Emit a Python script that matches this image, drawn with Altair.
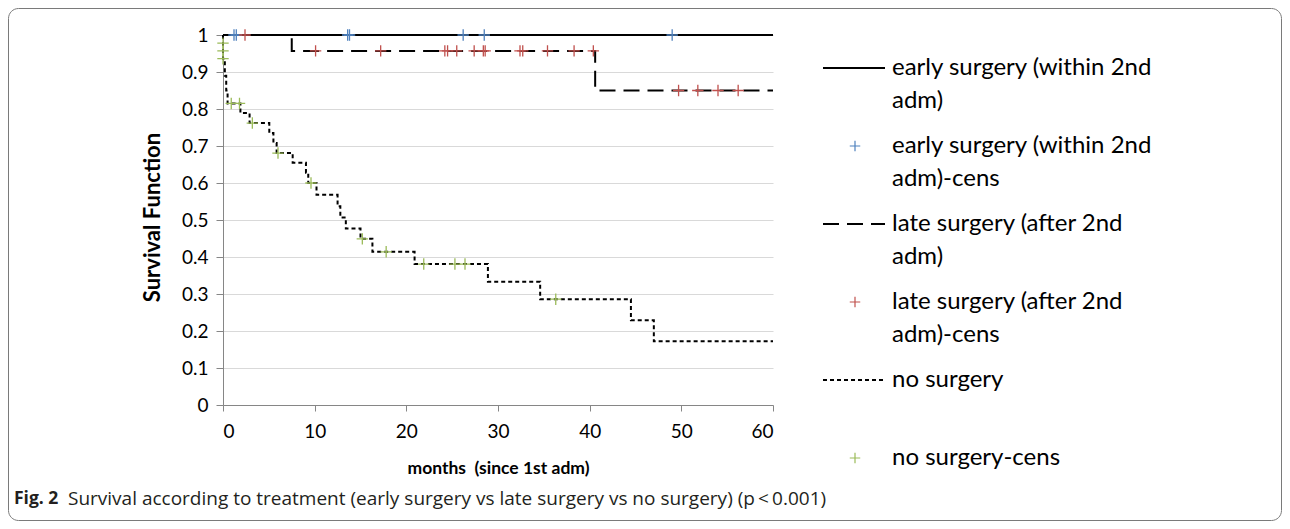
import altair as alt
import pandas as pd

# ---------------- data ----------------
groups = ["early surgery (within 2nd adm)", "late surgery (after 2nd adm)", "no surgery"]

early_t = [0, 60]
early_s = [1.0, 1.0]

late_t = [0, 7.5, 40.6, 60]
late_s = [1.0, 0.957, 0.850, 0.850]

none_t = [0, 0, 0, 0, 0.2, 0.35, 0.5, 1.9, 2.9, 5.05, 5.5, 5.85, 7.6, 9.05, 9.3,
          10.2, 12.5, 12.8, 13.4, 15.0, 16.3, 20.9, 28.9, 34.6, 44.5, 47.0, 60]
none_s = [1.0, 0.978, 0.957, 0.936, 0.89, 0.85, 0.815, 0.789, 0.762, 0.735, 0.708, 0.681,
          0.655, 0.628, 0.600, 0.568, 0.537, 0.507, 0.477, 0.449, 0.414, 0.381, 0.333,
          0.286, 0.229, 0.172, 0.172]

early_cens_t = [1.2, 1.45, 13.6, 13.8, 26.2, 28.5, 49.0]
early_cens_s = [1.0, 1.0, 1.0, 1.0, 1.0, 1.0, 1.0]

late_cens_t = [2.4, 10.1, 17.2, 24.2, 24.5, 25.5, 27.4, 28.4, 28.6, 32.4, 32.7, 35.4,
               38.3, 40.4, 49.7, 51.8, 54.0, 56.2]
late_cens_s = [1.0, 0.957, 0.957, 0.957, 0.957, 0.957, 0.957, 0.957, 0.957, 0.957,
               0.957, 0.957, 0.957, 0.957, 0.850, 0.850, 0.850, 0.850]

none_cens_t = [0, 0, 0, 0.9, 1.8, 3.2, 6.0, 9.6, 15.2, 17.8, 21.9, 25.3, 26.4, 36.3]
none_cens_s = [0.978, 0.957, 0.936, 0.815, 0.815, 0.762, 0.681, 0.600, 0.449, 0.414,
               0.381, 0.381, 0.381, 0.286]

x_ticks = [0, 10, 20, 30, 40, 50, 60]
y_ticks = [0, 0.1, 0.2, 0.3, 0.4, 0.5, 0.6, 0.7, 0.8, 0.9, 1.0]

legend_labels = [
    "early surgery (within 2nd\nadm)",
    "early surgery (within 2nd\nadm)-cens",
    "late surgery (after 2nd\nadm)",
    "late surgery (after 2nd\nadm)-cens",
    "no surgery",
    "no surgery-cens",
]
legend_kinds = ["line", "cens", "line", "cens", "line", "cens"]
legend_group_idx = [0, 0, 1, 1, 2, 2]

caption_bold = "Fig. 2"
caption_text = "Survival according to treatment (early surgery vs late surgery vs no surgery) (p\u2009<\u20090.001)"
x_title = "months\u00a0 (since 1st adm)"
y_title = "Survival Function"

# ---------------- styles ----------------
FONT = "Lato"
CAP_FONT = "Open Sans"
dash_range = [[1, 0], [16, 8], [4, 3]]
cens_colors = ["#4f81bd", "#c0504d", "#9bbb59"]
PLUS = "M -1 0 L 1 0 M 0 -1 L 0 1"

# ---------------- tables ----------------
rows = []
for g, ts, ss in zip(groups, [early_t, late_t, none_t], [early_s, late_s, none_s]):
    for i, (t, s) in enumerate(zip(ts, ss)):
        rows.append({"group": g, "t": t, "s": s, "i": i})
curves = pd.DataFrame(rows)

crow = []
for g, ts, ss in zip(groups, [early_cens_t, late_cens_t, none_cens_t],
                     [early_cens_s, late_cens_s, none_cens_s]):
    for t, s in zip(ts, ss):
        crow.append({"group": g, "t": t, "s": s})
cens = pd.DataFrame(crow)

xscale = alt.Scale(domain=[0, 60], nice=False)
yscale = alt.Scale(domain=[0, 1], nice=False)

x_axis = alt.Axis(values=x_ticks, grid=False, title=x_title, format="d", labelOverlap=False,
                  domainColor="#868686", tickColor="#868686", tickSize=6,
                  labelFont=FONT, labelFontSize=19, labelColor="black", labelPadding=11,
                  titleFont=FONT, titleFontSize=17.5, titleFontWeight="bold", titleColor="black",
                  titleX=275, titleY=63, titleBaseline="middle")
y_axis = alt.Axis(values=y_ticks, grid=True, gridColor="#d9d9d9", title=y_title,
                  format=".1~f", labelOverlap=False,
                  domainColor="#868686", tickColor="#868686", tickSize=7,
                  labelFont=FONT, labelFontSize=19, labelColor="black", labelPadding=8,
                  titleFont=FONT, titleFontSize=22, titleFontWeight="bold", titleColor="black",
                  titleAngle=270, titleX=-71, titleY=182, titleAlign="center",
                  titleBaseline="middle")

curve_layer = alt.Chart(curves).mark_line(interpolate="step-after", color="black", strokeWidth=2).encode(
    x=alt.X("t:Q", scale=xscale, axis=x_axis),
    y=alt.Y("s:Q", scale=yscale, axis=y_axis),
    strokeDash=alt.StrokeDash("group:N", scale=alt.Scale(domain=groups, range=dash_range), legend=None),
    detail="group:N",
    order="i:Q",
)

cens_layer = alt.Chart(cens).mark_point(shape=PLUS, filled=False, size=130, strokeWidth=1.3, opacity=1).encode(
    x=alt.X("t:Q", scale=xscale, axis=x_axis),
    y=alt.Y("s:Q", scale=yscale, axis=y_axis),
    color=alt.Color("group:N", scale=alt.Scale(domain=groups, range=cens_colors), legend=None),
)

layers = [curve_layer, cens_layer]

# ---------------- custom legend (layout only, no scales) ----------------
LEG_Y0, LEG_STEP, LEG_LH = 33, 78, 33
LEG_LINE_X, LEG_LINE_X2, LEG_SYM_X, LEG_TEXT_X = 600, 662, 632, 669
one = pd.DataFrame({"k": [0]})
for r, (lab, kind, gi) in enumerate(zip(legend_labels, legend_kinds, legend_group_idx)):
    y0 = LEG_Y0 + LEG_STEP * r
    if kind == "line":
        layers.append(alt.Chart(one).mark_rule(color="black", strokeWidth=2,
                                               strokeDash=dash_range[gi]).encode(
            x=alt.value(LEG_LINE_X), x2=alt.value(LEG_LINE_X2), y=alt.value(y0)))
    else:
        layers.append(alt.Chart(one).mark_point(shape=PLUS, filled=False, size=110, strokeWidth=1.2,
                                                opacity=1, color=cens_colors[gi]).encode(
            x=alt.value(LEG_SYM_X), y=alt.value(y0)))
    for j, part in enumerate(lab.split("\n")):
        layers.append(alt.Chart(pd.DataFrame({"txt": [part]})).mark_text(
            align="left", baseline="middle", font=FONT, fontSize=24, color="black").encode(
            x=alt.value(LEG_TEXT_X), y=alt.value(y0 + LEG_LH * j), text="txt:N"))

# ---------------- caption and frame ----------------
cap_df = pd.DataFrame({"bold": [caption_bold], "txt": [caption_text]})
layers.append(alt.Chart(cap_df).mark_text(align="left", baseline="middle", font=CAP_FONT, fontSize=17.5,
                                          fontWeight="bold", color="#231f20").encode(
    x=alt.value(-209), y=alt.value(464), text="bold:N"))
layers.append(alt.Chart(cap_df).mark_text(align="left", baseline="middle", font=CAP_FONT, fontSize=19,
                                          color="#231f20").encode(
    x=alt.value(-155), y=alt.value(464), text="txt:N"))
layers.append(alt.Chart(cap_df).mark_rect(filled=False, stroke="#7a7a7a", strokeWidth=1, cornerRadius=10).encode(
    x=alt.value(-214.5), x2=alt.value(1058.5), y=alt.value(-26.5), y2=alt.value(485.5)))

chart = alt.layer(*layers).properties(
    width=550, height=370,
    padding={"left": 215, "top": 27, "right": 509, "bottom": 116},
    autosize=alt.AutoSizeParams(type="none"),
    background="white",
).configure_view(stroke=None)

chart.save("out.html", embed_options={"renderer": "svg", "actions": False})
